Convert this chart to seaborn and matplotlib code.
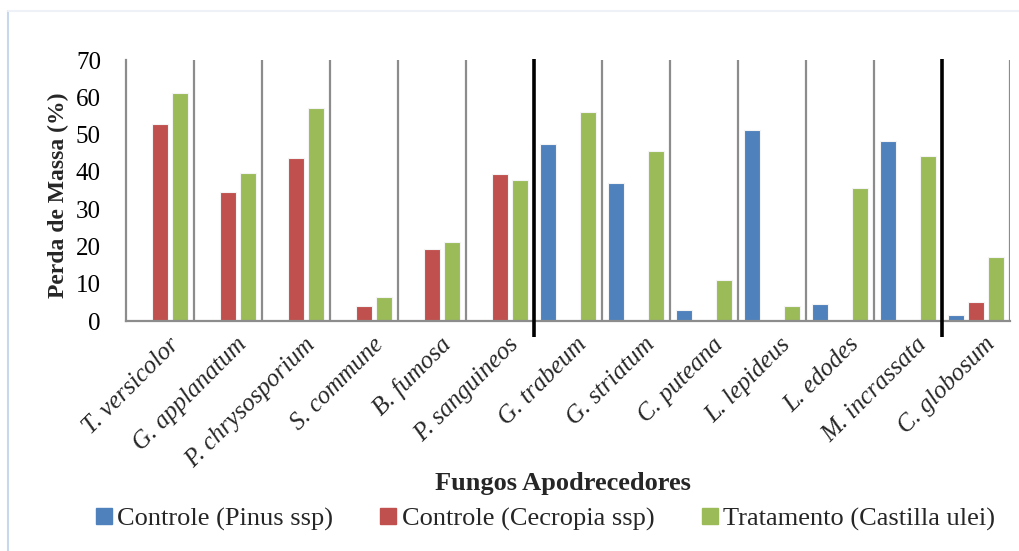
import numpy as np
import pandas as pd
import matplotlib
matplotlib.use("Agg")
import matplotlib.pyplot as plt
import matplotlib.transforms as mtransforms
import seaborn as sns
from matplotlib.lines import Line2D

# Mass loss (%) per decay fungus and wood type
fungi = ["T. versicolor", "G. applanatum", "P. chrysosporium", "S. commune",
         "B. fumosa", "P. sanguineos", "G. trabeum", "G. striatum",
         "C. puteana", "L. lepideus", "L. edodes", "M. incrassata", "C. globosum"]
pinus = [np.nan, np.nan, np.nan, np.nan, np.nan, np.nan,
         47.5, 37.0, 3.0, 51.1, 4.6, 48.4, 1.5]
cecropia = [52.8, 34.6, 43.6, 4.0, 19.4, 39.4,
            np.nan, np.nan, np.nan, np.nan, np.nan, np.nan, 5.0]
castilla = [61.1, 39.7, 57.2, 6.5, 21.1, 37.9,
            56.0, 45.6, 10.9, 3.9, 35.6, 44.3, 17.3]
series = ["Controle (Pinus ssp)", "Controle (Cecropia ssp)", "Tratamento (Castilla ulei)"]
colors = ["#4F81BD", "#C0504D", "#9BBB59"]
yticks = [0, 10, 20, 30, 40, 50, 60, 70]

df = pd.DataFrame({
    "Fungo": fungi * 3,
    "Serie": [s for s in series for _ in fungi],
    "Perda": pinus + cecropia + castilla,
})

sns.set_theme(style="white")
plt.rcParams["font.family"] = ["Liberation Serif", "DejaVu Serif"]

fig = plt.figure(figsize=(10.2, 5.51), dpi=100)
ax = fig.add_axes([0.1235, 0.4174, 0.8665, 0.4737])

sns.barplot(data=df, x="Fungo", y="Perda", hue="Serie", order=fungi,
            hue_order=series, palette=colors, saturation=1, width=0.88,
            gap=0.2, errorbar=None, edgecolor="#f4f4f4", linewidth=0.8, ax=ax)

ax.set_ylim(0, 70)
ax.set_xlim(-0.5, len(fungi) - 0.5)
ax.set_yticks(yticks)
ax.set_yticklabels([str(v) for v in yticks], fontsize=18)
ax.tick_params(axis="y", length=0, pad=18, colors="black")
ax.tick_params(axis="x", length=0, pad=9)
ax.set_xticks(range(len(fungi)))
ax.set_xticklabels(fungi, rotation=45, ha="right", rotation_mode="anchor",
                   fontsize=18, style="italic")
shift = mtransforms.ScaledTranslation(8 / 100, 0, fig.dpi_scale_trans)
for lbl in ax.get_xticklabels():
    lbl.set_transform(lbl.get_transform() + shift)

for side in ["top", "right"]:
    ax.spines[side].set_visible(False)
for side in ["left", "bottom"]:
    ax.spines[side].set_color("#8c8c8c")
    ax.spines[side].set_linewidth(1.6)

# Category separators
grey_pos = [i + 0.5 for i in range(len(fungi)) if i not in (5, 11)]
ax.vlines(grey_pos, 0, 70, colors="#8c8c8c", linewidth=1.6, zorder=0)
ax.vlines([5.5, 11.5], -4.2, 70.3, colors="black", linewidth=2.6,
          clip_on=False, zorder=3)

ax.set_ylabel("Perda de Massa (%)", fontsize=17, fontweight="bold")
ax.yaxis.set_label_coords(-0.064, 0.48)
ax.set_xlabel("")
fig.text(0.552, 0.123, "Fungos Apodrecedores", ha="center", va="center",
         fontsize=19, fontweight="bold")

ax.get_legend().remove()
handles = [Line2D([0], [0], marker="s", linestyle="none", markersize=11,
                  markerfacecolor=c, markeredgecolor=c) for c in colors]
fig.legend(handles, series, loc="center", bbox_to_anchor=(0.532, 0.058),
           ncol=3, frameon=False, fontsize=19, handletextpad=0.0,
           columnspacing=1.6, handlelength=1.0)

# Faint chart-area frame
fig.add_artist(Line2D([0.008, 0.008], [0.0, 0.98], color="#c9d7ec", linewidth=1.5))
fig.add_artist(Line2D([0.008, 1.0], [0.98, 0.98], color="#eef2f8", linewidth=1.5))

fig.savefig("out.png", dpi=100)
